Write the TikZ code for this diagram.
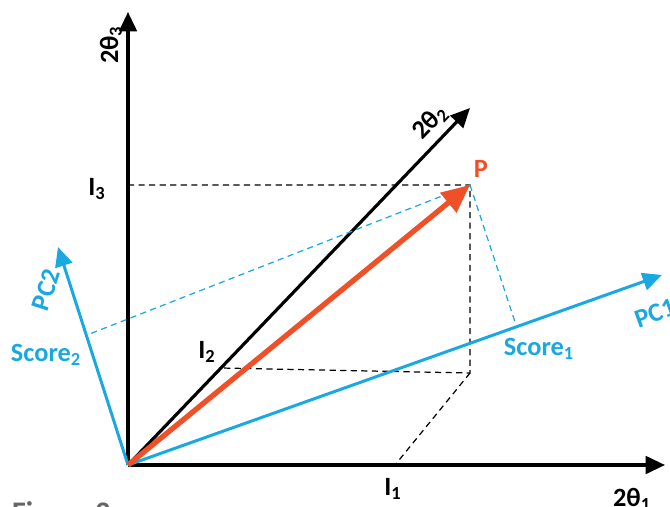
\documentclass[tikz,border=0pt]{standalone}
\usepackage{fontspec}
\setmainfont{Carlito}
\usetikzlibrary{arrows.meta}
\definecolor{pcblue}{RGB}{26,168,224}
\definecolor{porange}{RGB}{240,80,40}

\begin{document}
\begin{tikzpicture}[>={Triangle[length=11pt,width=10pt]},
  axis/.style={->, line width=1.8pt, black},
  pcaxis/.style={->, line width=1.7pt, pcblue},
  proj/.style={line width=0.7pt, dash pattern=on 3.5pt off 2.5pt},
  lbl/.style={font=\fontsize{15}{17}\selectfont\bfseries, inner sep=1pt}]
  \useasboundingbox (0,0) rectangle (13.4,10.12);

  % Axes
  \coordinate (O) at (2.56,0.82);
  \coordinate (X1) at (13.3,0.82);
  \coordinate (X2) at (9.40,7.96);
  \coordinate (X3) at (2.56,9.88);
  \draw[axis] (O) -- (X1);
  \draw[axis] (O) -- (X3);
  \draw[axis] (O) -- (X2);
  \node[lbl] (t1) at (12.64,0.14) {2θ\textsubscript{1}};
  \node[lbl, rotate=46] (t2) at (8.60,7.68) {2θ\textsubscript{2}};
  \node[lbl, rotate=90] (t3) at (2.22,9.22) {2θ\textsubscript{3}};

  % Point P and its projections
  \coordinate (P) at (9.40,6.42);
  \coordinate (Q) at (9.40,2.66);
  \coordinate (F1) at (7.90,0.82);
  \coordinate (F2) at (4.42,2.76);
  \coordinate (F3) at (2.56,6.42);
  \draw[proj] (F3) -- (P) -- (Q) -- (F2);
  \draw[proj] (Q) -- (F1);
  \node[lbl] (I1) at (7.86,0.34) {I\textsubscript{1}};
  \node[lbl] (I2) at (4.14,3.08) {I\textsubscript{2}};
  \node[lbl] (I3) at (1.94,6.34) {I\textsubscript{3}};

  % Principal components
  \coordinate (PC1) at (13.24,4.62);
  \coordinate (PC2) at (1.16,5.18);
  \coordinate (S1) at (10.32,3.62);
  \coordinate (S2) at (1.74,3.42);
  \draw[pcaxis] (O) -- (PC1);
  \draw[pcaxis] (O) -- (PC2);
  \draw[proj, pcblue] (P) -- (S1);
  \draw[proj, pcblue] (P) -- (S2);
  \node[lbl, pcblue, rotate=20] (pc1) at (13.10,3.86) {PC1};
  \node[lbl, pcblue, rotate=72] (pc2) at (0.92,4.32) {PC2};
  \node[lbl, pcblue] (sc1) at (10.78,3.14) {Score\textsubscript{1}};
  \node[lbl, pcblue] (sc2) at (0.92,3.02) {Score\textsubscript{2}};

  % Vector to P
  \draw[->, >={Triangle[length=16pt,width=14pt]}, line width=3pt, porange] (O) -- (P);
  \node[lbl, porange] (p) at (9.62,6.74) {P};

  \node[lbl, gray!80!black, anchor=north west, font=\fontsize{17}{19}\selectfont\bfseries] (fig) at (0.20,0.14) {Figure 2};
\end{tikzpicture}
\end{document}
